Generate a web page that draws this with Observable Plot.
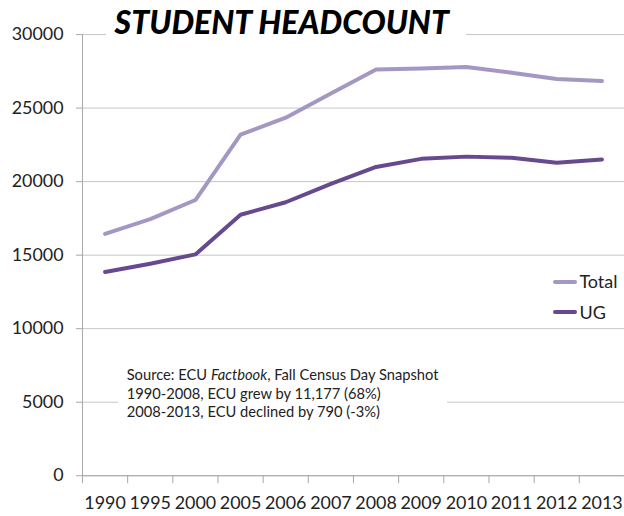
<!DOCTYPE html>
<html>
<head>
<meta charset="utf-8">
<script src="https://cdn.jsdelivr.net/npm/d3@7"></script>
<script src="https://cdn.jsdelivr.net/npm/@observablehq/plot@0.6"></script>
<style>
  html, body { margin: 0; padding: 0; background: #fff; overflow: hidden; }
  #wrap { position: relative; width: 624px; height: 516px; overflow: hidden; font-family: Lato, sans-serif; }
  #chart { position: absolute; left: 0; top: 0; }
  #title { position: absolute; left: 105.5px; top: 7.6px; width: 360.5px; height: 28px; line-height: 28px;
           box-sizing: border-box; padding-right: 8px;
           background: #fff; text-align: center; font-family: Lato, sans-serif; font-style: italic; font-weight: 900;
           font-size: 32px; color: #000; white-space: nowrap; }
  #note { position: absolute; left: 118px; top: 362px; width: 329px; height: 68px; background: #fff;
          box-sizing: border-box; padding: 3px 0 0 8.7px; font-size: 14.7px; line-height: 18.7px; color: #222; white-space: nowrap; }
  .leg-sw { position: absolute; width: 24px; height: 4px; border-radius: 2px; }
  .leg-tx { position: absolute; font-size: 18px; line-height: 18px; color: #222; white-space: nowrap; }
</style>
</head>
<body>
<div id="wrap">
  <div id="chart"></div>
  <div id="title"></div>
  <div id="note"></div>
  <div id="legend"></div>
</div>
<script>
// ---- data ----
const years = ["1990","1995","2000","2005","2006","2007","2008","2009","2010","2011","2012","2013"];
const total = [16450, 17450, 18750, 23200, 24350, 26000, 27627, 27700, 27800, 27400, 26980, 26837];
const ug    = [13860, 14420, 15050, 17750, 18600, 19850, 21000, 21550, 21700, 21620, 21290, 21500];
const seriesNames = ["Total", "UG"];
const seriesColors = ["#a597c3", "#66498f"];
const yTicks = [0, 5000, 10000, 15000, 20000, 25000, 30000];
const titleText = "STUDENT HEADCOUNT";
const noteLines = [
  ["Source: ECU ", "Factbook", ", Fall Census Day Snapshot"],
  ["1990-2008, ECU grew by 11,177 (68%)"],
  ["2008-2013, ECU declined by 790 (-3%)"]
];

// ---- table ----
const idx = years.map((d, i) => i);
const boundaries = d3.range(years.length + 1).map(i => i - 0.5);
const rows = [];
years.forEach((yr, i) => {
  rows.push({i, year: yr, series: "Total", value: total[i]});
  rows.push({i, year: yr, series: "UG", value: ug[i]});
});

const axisGray = "#a6a6a6";
const chart = Plot.plot({
  width: 628,
  height: 516,
  marginLeft: 82.5,
  marginRight: 0,
  marginTop: 34.3,
  marginBottom: 37.7,
  style: {fontFamily: "Lato, sans-serif", fontSize: "18px", color: "#222", background: "transparent", overflow: "visible"},
  x: {type: "linear", domain: [-0.5, years.length - 0.5], axis: null, label: null},
  y: {domain: [0, 30000], axis: null, label: null},
  color: {domain: seriesNames, range: seriesColors},
  marks: [
    Plot.gridY(yTicks, {stroke: "#c6c6c6", strokeOpacity: 1, strokeWidth: 1}),
    Plot.ruleX([-0.5], {stroke: axisGray}),
    Plot.ruleY([0], {stroke: axisGray}),
    Plot.axisY(yTicks, {tickSize: 6, tickPadding: 13, stroke: axisGray, fill: "#222", tickFormat: d => String(d), label: null}),
    Plot.axisX(boundaries, {tickSize: 8, stroke: axisGray, tickFormat: () => "", label: null}),
    Plot.axisX(idx, {tickSize: 0, tickPadding: 20.6, fill: "#222", tickFormat: i => years[i], label: null}),
    Plot.line(rows, {x: "i", y: "value", z: "series", stroke: "series", strokeWidth: 4,
                     strokeLinejoin: "round", strokeLinecap: "round"})
  ]
});
document.getElementById("chart").appendChild(chart);

// ---- title ----
document.getElementById("title").textContent = titleText;

// ---- note ----
const note = document.getElementById("note");
noteLines.forEach(parts => {
  const line = document.createElement("div");
  parts.forEach((p, k) => {
    const s = document.createElement(parts.length > 1 && k === 1 ? "i" : "span");
    s.textContent = p;
    line.appendChild(s);
  });
  note.appendChild(line);
});

// ---- legend ----
const legend = document.getElementById("legend");
const legTop = [279.7, 310.3];
seriesNames.forEach((name, k) => {
  const sw = document.createElement("div");
  sw.className = "leg-sw";
  sw.style.left = "553.3px";
  sw.style.top = legTop[k] + "px";
  sw.style.background = seriesColors[k];
  legend.appendChild(sw);
  const tx = document.createElement("div");
  tx.className = "leg-tx";
  tx.style.left = "579.4px";
  tx.style.top = (legTop[k] - 7.8) + "px";
  tx.textContent = name;
  legend.appendChild(tx);
});
</script>
</body>
</html>
